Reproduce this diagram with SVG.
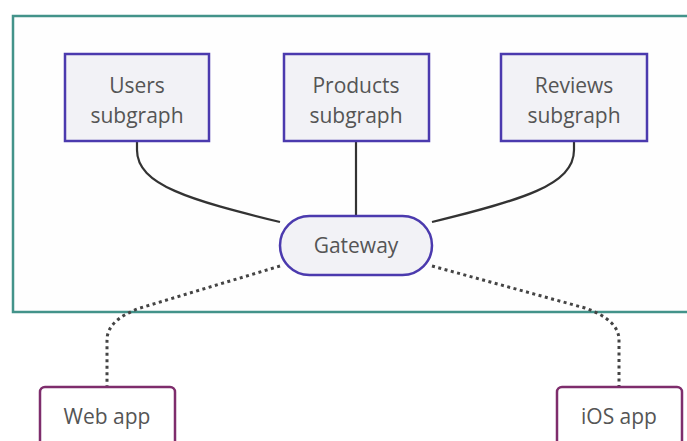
<svg xmlns="http://www.w3.org/2000/svg" width="687" height="441" viewBox="0 0 687 441">
  <style>
    .label { font-family: "Open Sans", "DejaVu Sans", sans-serif; font-size: 21px; fill: #555555; text-anchor: middle; }
    .service { fill: #f2f2f6; stroke: #4b3aae; stroke-width: 2.5; }
    .client { fill: #ffffff; stroke: #7e2d6c; stroke-width: 2.5; }
    .link { fill: none; stroke: #333333; stroke-width: 2.2; }
    .remote { fill: none; stroke: #444444; stroke-width: 3; stroke-dasharray: 3 3.5; }
  </style>
  <rect x="0" y="0" width="687" height="441" fill="#ffffff"/>

  <!-- backend cluster -->
  <g id="backend">
    <rect x="13" y="16" width="690" height="296" fill="#fefefe" stroke="#43938a" stroke-width="2.5"/>
  </g>

  <!-- connectors -->
  <g id="connectors">
    <path class="link" d="M137,141 L137,150 C137,185 190,200 280,222"/>
    <path class="link" d="M356,141 L356,216"/>
    <path class="link" d="M574,141 L574,150 C574,185 522,200 432,222"/>
    <path class="remote" d="M280,266 L140,308 Q107,320 107,340 L107,387"/>
    <path class="remote" d="M432,266 L585,308 Q619,320 619,340 L619,387"/>
  </g>

  <g id="users">
    <rect class="service" x="65" y="54" width="144" height="87"/>
    <text class="label" x="137" y="93">Users</text>
    <text class="label" x="137" y="123">subgraph</text>
  </g>

  <g id="products">
    <rect class="service" x="284" y="54" width="145" height="87"/>
    <text class="label" x="356" y="93">Products</text>
    <text class="label" x="356" y="123">subgraph</text>
  </g>

  <g id="reviews">
    <rect class="service" x="501" y="54" width="146" height="87"/>
    <text class="label" x="574" y="93">Reviews</text>
    <text class="label" x="574" y="123">subgraph</text>
  </g>

  <g id="gateway">
    <rect class="service" x="280" y="216" width="152" height="59" rx="29.5" ry="29.5"/>
    <text class="label" x="356" y="253">Gateway</text>
  </g>

  <g id="web-app">
    <rect class="client" x="40" y="387" width="135" height="70" rx="5" ry="5"/>
    <text class="label" x="107" y="424">Web app</text>
  </g>

  <g id="ios-app">
    <rect class="client" x="557" y="387" width="125" height="70" rx="5" ry="5"/>
    <text class="label" x="619" y="424">iOS app</text>
  </g>
</svg>
